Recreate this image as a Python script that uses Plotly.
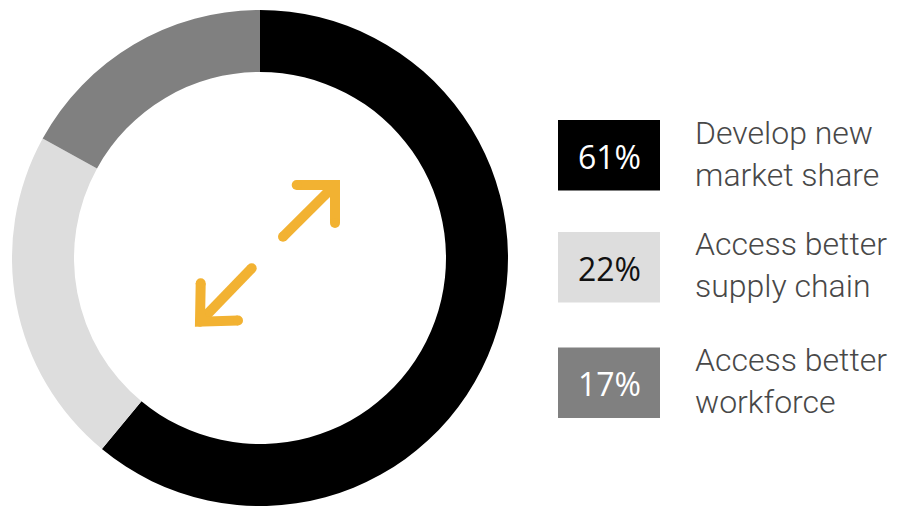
import plotly.graph_objects as go

# ---- data ----
categories = ["Develop new market share", "Access better supply chain", "Access better workforce"]
label_lines = [["Develop new", "market share"], ["Access better", "supply chain"], ["Access better", "workforce"]]
values = [61, 22, 17]
colors = ["#000000", "#DDDDDD", "#808080"]
pct_text_colors = ["#FFFFFF", "#111111", "#FFFFFF"]

W, H = 913, 506

fig = go.Figure()

# donut
cx, cy, r_out = 260, 258.5, 248.5
fig.add_trace(go.Pie(
    labels=categories, values=values, sort=False, direction="clockwise", rotation=0,
    hole=0.75, marker=dict(colors=colors, line=dict(width=0)),
    textinfo="none", hoverinfo="label+percent", showlegend=False,
    domain=dict(x=[(cx - r_out) / W, (cx + r_out) / W],
                y=[max(0, 1 - (cy + r_out) / H), 1 - (cy - r_out) / H]),
))

# decorative orange double arrow (pixel coordinate overlay axes)
orange = "#F2B232"
arrow_paths = [
    [(251.7, 268.3), (200, 321.7)],
    [(200.7, 283.3), (200, 321.7), (238, 320.5)],
    [(283, 236.7), (335, 185)],
    [(296.7, 185), (335, 185), (335, 223)],
]
for p in arrow_paths:
    xs = [q[0] for q in p]
    ys = [q[1] for q in p]
    fig.add_trace(go.Scatter(x=xs, y=ys, mode="lines", line=dict(color=orange, width=10),
                             hoverinfo="skip", showlegend=False))
    fig.add_trace(go.Scatter(x=[xs[0], xs[-1]], y=[ys[0], ys[-1]], mode="markers",
                             marker=dict(color=orange, size=10, line=dict(width=0)),
                             hoverinfo="skip", showlegend=False))

# legend boxes + texts
box_tops = [120, 232, 347.5]
box_h = 70.5
block_mid = [154, 265, 381]
for i, v in enumerate(values):
    t = box_tops[i]
    fig.add_shape(type="rect", x0=558, x1=660, y0=t, y1=t + box_h, xref="x", yref="y",
                  fillcolor=colors[i], line=dict(width=0), layer="above")
    fig.add_annotation(x=609.5, y=t + box_h / 2 + 1, xref="x", yref="y", text=f"{v}%",
                       showarrow=False, xanchor="center", yanchor="middle",
                       font=dict(family="Open Sans", size=32, color=pct_text_colors[i], weight=500))
    fig.add_annotation(x=693, y=block_mid[i], xref="x", yref="y",
                       text="<br>".join(label_lines[i]), showarrow=False,
                       xanchor="left", yanchor="middle", align="left",
                       font=dict(family="Roboto", size=32, color="#484848", weight=300))

fig.update_layout(
    width=W, height=H, margin=dict(l=0, r=0, t=0, b=0),
    paper_bgcolor="white", plot_bgcolor="rgba(0,0,0,0)",
    xaxis=dict(range=[0, W], visible=False, fixedrange=True, domain=[0, 1]),
    yaxis=dict(range=[H, 0], visible=False, fixedrange=True, domain=[0, 1]),
)

fig.write_html("out.html")
